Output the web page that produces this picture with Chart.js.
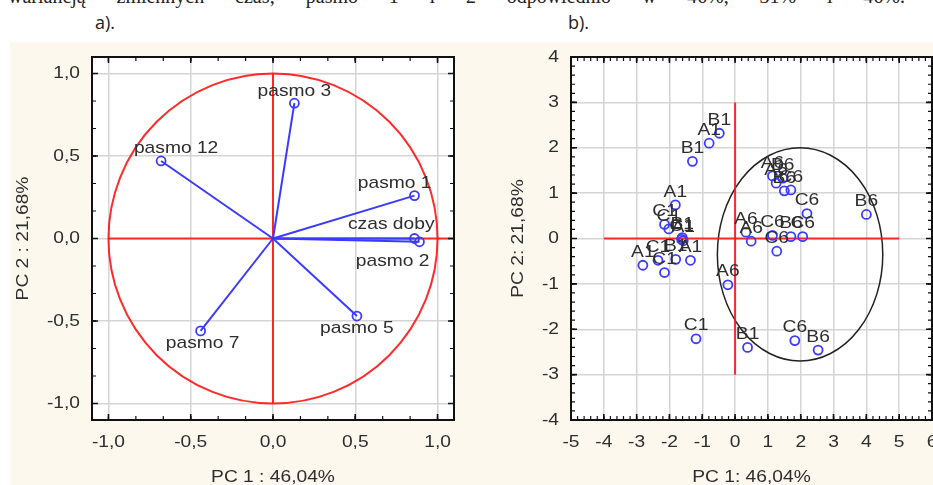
<!DOCTYPE html>
<html lang="pl">
<head>
<meta charset="utf-8">
<title>PCA: ładunki i wyniki</title>
<script src="https://cdn.jsdelivr.net/npm/chart.js@4.4.1/dist/chart.umd.min.js"></script>
<style>
    html, body {
        margin: 0;
        padding: 0;
        width: 933px;
        height: 485px;
        overflow: hidden;
        background: #fff;
        position: relative;
    }
    #caption {
        position: absolute;
        left: 8px;
        top: -15px;
        width: 897px;
        font: 20px "Liberation Serif", serif;
        line-height: 22px;
        color: #222;
        text-align: justify;
        text-align-last: justify;
    }
    .panel-tag {
        position: absolute;
        top: 10px;
        font: 18px "Open Sans", sans-serif;
        color: #222;
    }
    #paper {
        position: absolute;
        left: 10px;
        top: 42px;
        right: 0;
        bottom: 0;
        background: #fcf8ed;
    }
    canvas {
        position: absolute;
        top: 42px;
    }
    #loadingChart { left: 0; }
    #scoreChart { left: 470px; }
</style>
</head>
<body>
<div id="caption">wariancją zmiennych czas; pasmo 1 i 2 odpowiednio w 46%, 31% i 46%.</div>
<div id="paper"></div>
<div class="panel-tag" style="left: 95px;">a).</div>
<div class="panel-tag" style="left: 568px;">b).</div>
<canvas id="loadingChart" width="470" height="443"></canvas>
<canvas id="scoreChart" width="480" height="443"></canvas>
<script>
// a) loadings on the first two components
const loadingNames = ["pasmo 1", "czas doby", "pasmo 2", "pasmo 3", "pasmo 5", "pasmo 7", "pasmo 12"];
const loadingPC1 = [0.86, 0.86, 0.89, 0.13, 0.51, -0.44, -0.68];
const loadingPC2 = [0.26, 0.00, -0.02, 0.82, -0.47, -0.56, 0.47];
const loadingTicks = [-1, -0.5, 0, 0.5, 1];

// b) case scores
const scoreNames = [
    "B1", "A1", "B1", "A1", "C1", "C1", "B1", "A1", "C1",
    "A1", "C1", "C1", "B1", "A1", "A6", "C1", "B1", "C6", "B6",
    "A6", "A6", "C6", "C6", "B6", "C6", "C6", "B6",
    "A6", "A6", "B6", "B6", "C6"
];
const scorePC1 = [
    -0.48, -0.79, -1.30, -1.82, -2.15, -2.02, -1.61, -1.58, -1.63,
    -2.81, -2.35, -2.15, -1.81, -1.36, -0.22, -1.19, 0.38, 1.82, 2.53,
    0.33, 0.49, 1.14, 1.27, 1.70, 2.06, 2.19, 4.00,
    1.14, 1.25, 1.45, 1.50, 1.70
];
const scorePC2 = [
    2.32, 2.10, 1.70, 0.74, 0.31, 0.21, 0.02, -0.05, -0.02,
    -0.59, -0.48, -0.75, -0.46, -0.48, -1.02, -2.21, -2.40, -2.25, -2.46,
    0.14, -0.06, 0.07, -0.28, 0.04, 0.04, 0.55, 0.53,
    1.38, 1.22, 1.33, 1.05, 1.07
];
const scoreXTicks = [-5, -4, -3, -2, -1, 0, 1, 2, 3, 4, 5, 6];
const scoreYTicks = [-4, -3, -2, -1, 0, 1, 2, 3, 4];

// reference shapes: unit circle, group ellipse, cross-hair extents
const circleCenter = [0, 0];
const circleRadius = [1, 1];
const ellipseCenter = [1.98, -0.35];
const ellipseRadius = [2.52, 2.35];
const loadingCrossX = [-1, 1.1];
const loadingCrossY = [-1, 1];
const scoreCrossX = [-4, 5];
const scoreCrossY = [-3, 3];

const RED = "rgba(255, 20, 20, 0.9)";
const BLUE = "#3b3bff";
const GRID = "#d5d5d5";
const INK = "#2e2e2e";
const FONT = '17px "Liberation Sans", Arial, sans-serif';
const TEXT_STRETCH = 1.13;

// where each loading name sits relative to its marker
const loadingLabelPos = [
    {dx: 17, dy: -12, align: "right"},
    {dx: 20, dy: -14, align: "right"},
    {dx: 10, dy: 20, align: "right"},
    {dx: 0, dy: -12, align: "center"},
    {dx: 0, dy: 12, align: "center"},
    {dx: 2, dy: 12, align: "center"},
    {dx: 15, dy: -13, align: "center"}
];

function comma(value) {
    return value.toFixed(1).replace(".", ",");
}

function plain(value) {
    return `${value}`;
}

function stretchText(ctx, text, x, y, align, angle) {
    ctx.save();
    ctx.translate(x, y);
    if (angle) {
        ctx.rotate(angle);
    }
    ctx.scale(TEXT_STRETCH, 1);
    ctx.textAlign = align;
    ctx.textBaseline = "middle";
    ctx.fillText(text, 0, 0);
    ctx.restore();
}

function minorValues(ticks, divisions) {
    const values = [];
    for (let i = 0; i < ticks.length - 1; i++) {
        for (let k = 0; k <= divisions; k++) {
            values.push(ticks[i] + (ticks[i + 1] - ticks[i]) * k / divisions);
        }
    }
    return values;
}

const paperFrame = {
    id: "paperFrame",
    beforeDraw(chart) {
        const {ctx, chartArea: a} = chart;
        ctx.save();
        ctx.fillStyle = "#fff";
        ctx.fillRect(a.left, a.top, a.width, a.height);
        ctx.restore();
    },
    afterDraw(chart, args, opts) {
        const {ctx, chartArea: a, scales: {x, y}} = chart;
        ctx.save();
        ctx.strokeStyle = "#111";

        // tick marks pointing into the box on all four sides
        const marks = (values, len, horizontal) => {
            values.forEach((v) => {
                ctx.beginPath();
                if (horizontal) {
                    const px = x.getPixelForValue(v);
                    ctx.moveTo(px, a.bottom); ctx.lineTo(px, a.bottom - len);
                    ctx.moveTo(px, a.top); ctx.lineTo(px, a.top + len);
                } else {
                    const py = y.getPixelForValue(v);
                    ctx.moveTo(a.left, py); ctx.lineTo(a.left + len, py);
                    ctx.moveTo(a.right, py); ctx.lineTo(a.right - len, py);
                }
                ctx.stroke();
            });
        };
        ctx.lineWidth = 1.2;
        marks(minorValues(opts.xTicks, opts.divisions), 4, true);
        marks(minorValues(opts.yTicks, opts.divisions), 4, false);
        ctx.lineWidth = 1.6;
        marks(opts.xTicks, 6, true);
        marks(opts.yTicks, 6, false);

        ctx.lineWidth = 2;
        ctx.strokeRect(a.left, a.top, a.width, a.height);

        ctx.fillStyle = INK;
        ctx.font = FONT;
        opts.xTicks.forEach((v) => {
            stretchText(ctx, opts.format(v), x.getPixelForValue(v), a.bottom + 22, "center");
        });
        opts.yTicks.forEach((v) => {
            stretchText(ctx, opts.format(v), a.left - 12, y.getPixelForValue(v), "right");
        });
        stretchText(ctx, opts.xTitle, (a.left + a.right) / 2, a.bottom + 57, "center");
        stretchText(ctx, opts.yTitle, a.left - opts.yTitleGap, (a.top + a.bottom) / 2, "center", -Math.PI / 2);
        ctx.restore();
    }
};

const ellipseRef = {
    id: "ellipseRef",
    beforeDatasetsDraw(chart, args, opts) {
        const {ctx, chartArea: a, scales: {x, y}} = chart;
        const cx = x.getPixelForValue(opts.center[0]);
        const cy = y.getPixelForValue(opts.center[1]);
        const rx = Math.abs(x.getPixelForValue(opts.center[0] + opts.radius[0]) - cx);
        const ry = Math.abs(y.getPixelForValue(opts.center[1] + opts.radius[1]) - cy);
        ctx.save();
        ctx.beginPath();
        ctx.rect(a.left, a.top, a.width, a.height);
        ctx.clip();
        ctx.beginPath();
        ctx.ellipse(cx, cy, rx, ry, 0, 0, Math.PI * 2);
        ctx.strokeStyle = opts.color;
        ctx.lineWidth = opts.width;
        ctx.stroke();
        ctx.restore();
    }
};

const pointNames = {
    id: "pointNames",
    afterDatasetsDraw(chart, args, opts) {
        const {ctx, scales: {x, y}} = chart;
        ctx.save();
        ctx.fillStyle = INK;
        ctx.font = FONT;
        opts.names.forEach((name, i) => {
            const pos = opts.placement(i);
            stretchText(ctx, name,
                x.getPixelForValue(opts.xs[i]) + pos.dx,
                y.getPixelForValue(opts.ys[i]) + pos.dy,
                pos.align);
        });
        ctx.restore();
    }
};

function frameScale(axis, min, max, ticks) {
    return {
        type: "linear",
        position: axis === "x" ? "bottom" : "left",
        min: min,
        max: max,
        afterBuildTicks: (scale) => {
            scale.ticks = ticks.map((value) => ({value}));
        },
        afterFit: (scale) => {
            if (axis === "x") {
                scale.height = 0;
            } else {
                scale.width = 0;
            }
            scale.paddingLeft = 0;
            scale.paddingRight = 0;
            scale.paddingTop = 0;
            scale.paddingBottom = 0;
        },
        ticks: {display: false},
        border: {display: false},
        grid: {color: GRID, lineWidth: 1.5, drawTicks: false}
    };
}

function crossLines(xs, ys, centre) {
    return [
        {data: [{x: xs[0], y: centre[1]}, {x: xs[1], y: centre[1]}]},
        {data: [{x: centre[0], y: ys[0]}, {x: centre[0], y: ys[1]}]}
    ].map((set) => Object.assign(set, {
        showLine: true,
        borderColor: RED,
        borderWidth: 2,
        pointRadius: 0
    }));
}

function baseOptions(padding) {
    return {
        responsive: false,
        animation: false,
        events: [],
        layout: {padding: padding},
        plugins: {legend: {display: false}, tooltip: {enabled: false}}
    };
}

function renderLoadings() {
    const vectors = loadingNames.map((name, i) => ({
        label: name,
        data: [{x: 0, y: 0}, {x: loadingPC1[i], y: loadingPC2[i]}],
        showLine: true,
        borderColor: BLUE,
        borderWidth: 2,
        pointRadius: [0, 4.5],
        pointBorderWidth: 1.8,
        pointBorderColor: BLUE,
        pointBackgroundColor: "rgba(0,0,0,0)"
    }));
    const options = baseOptions({left: 92, right: 16, top: 15, bottom: 65});
    options.scales = {
        x: frameScale("x", -1.1, 1.1, loadingTicks),
        y: frameScale("y", -1.1, 1.1, loadingTicks)
    };
    options.plugins.paperFrame = {
        xTicks: loadingTicks, yTicks: loadingTicks, divisions: 3, format: comma,
        xTitle: "PC 1 : 46,04%", yTitle: "PC 2 : 21,68%", yTitleGap: 69
    };
    options.plugins.ellipseRef = {center: circleCenter, radius: circleRadius, color: RED, width: 2};
    options.plugins.pointNames = {
        names: loadingNames, xs: loadingPC1, ys: loadingPC2,
        placement: (i) => loadingLabelPos[i]
    };
    new Chart(document.getElementById("loadingChart"), {
        type: "scatter",
        data: {datasets: vectors.concat(crossLines(loadingCrossX, loadingCrossY, circleCenter))},
        options: options,
        plugins: [paperFrame, ellipseRef, pointNames]
    });
}

function renderScores() {
    const cases = {
        label: "wyniki",
        data: scorePC1.map((v, i) => ({x: v, y: scorePC2[i]})),
        pointRadius: 4.5,
        pointBorderWidth: 1.8,
        pointBorderColor: BLUE,
        pointBackgroundColor: "rgba(0,0,0,0)"
    };
    const options = baseOptions({left: 101, right: 18, top: 15, bottom: 65});
    options.scales = {
        x: frameScale("x", -5, 6, scoreXTicks),
        y: frameScale("y", -4, 4, scoreYTicks)
    };
    options.plugins.paperFrame = {
        xTicks: scoreXTicks, yTicks: scoreYTicks, divisions: 5, format: plain,
        xTitle: "PC 1: 46,04%", yTitle: "PC 2: 21,68%", yTitleGap: 53
    };
    options.plugins.ellipseRef = {center: ellipseCenter, radius: ellipseRadius, color: "#222", width: 1.5};
    options.plugins.pointNames = {
        names: scoreNames, xs: scorePC1, ys: scorePC2,
        placement: () => ({dx: 0, dy: -13, align: "center"})
    };
    new Chart(document.getElementById("scoreChart"), {
        type: "scatter",
        data: {datasets: [cases].concat(crossLines(scoreCrossX, scoreCrossY, [0, 0]))},
        options: options,
        plugins: [paperFrame, ellipseRef, pointNames]
    });
}

renderLoadings();
renderScores();
</script>
</body>
</html>
